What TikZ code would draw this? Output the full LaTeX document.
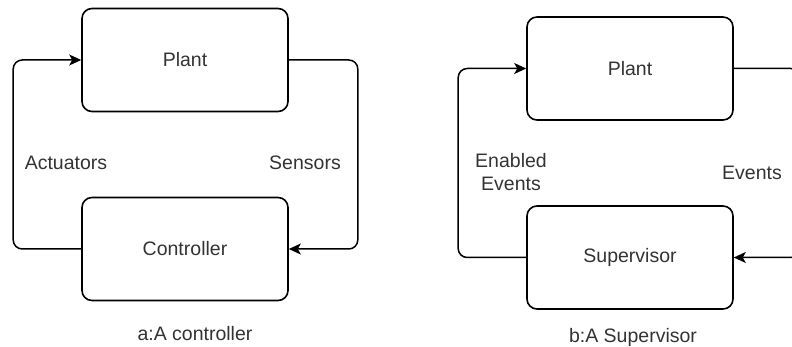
\documentclass[tikz,border=0pt]{standalone}
\usepackage{fontspec}
\setmainfont{Liberation Sans}
\usetikzlibrary{arrows.meta}
\definecolor{txt}{HTML}{333333}
\begin{document}
\begin{tikzpicture}[x=1pt,y=-1pt,
  blk/.style={draw=black,line width=1.6pt,rounded corners=10pt,fill=white,
    minimum width=206pt,minimum height=103pt,inner sep=0pt,
    font=\fontsize{19.5}{23}\selectfont,text=txt},
  lbl/.style={font=\fontsize{19.5}{23}\selectfont,text=txt,inner sep=0pt,align=center},
  link/.style={line width=1.5pt,rounded corners=9pt,-{Stealth[length=12pt,width=11pt,inset=3pt]}}]
\useasboundingbox (0,0) rectangle (792,347);
\clip (0,0) rectangle (792,347);

% a: controller loop
\node[blk] (plantA) at (185,60) {Plant};
\node[blk] (ctrl) at (185,249) {Controller};
\draw[link] (ctrl.west) -- ++(-68,0) |- (plantA.west);
\draw[link] (plantA.east) -- ++(69,0) |- (ctrl.east);
\node[lbl] (act) at (66,163) {Actuators};
\node[lbl] (sen) at (305,163) {Sensors};
\node[lbl] (capA) at (195,334) {a:A controller};

% b: supervisor loop
\node[blk] (plantB) at (630,68.5) {Plant};
\node[blk] (sup) at (630,257.5) {Supervisor};
\draw[link] (sup.west) -- ++(-68,0) |- (plantB.west);
\draw[link] (plantB.east) -- ++(66,0) |- (sup.east);
\node[lbl] (en) at (511,172) {Enabled\\Events};
\node[lbl] (ev) at (752,173) {Events};
\node[lbl] (capB) at (633,337) {b:A Supervisor};
\end{tikzpicture}
\end{document}
